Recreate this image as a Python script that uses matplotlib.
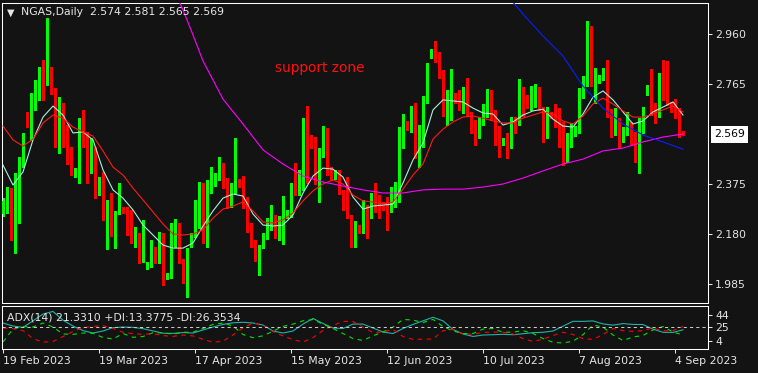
import numpy as np
import matplotlib
matplotlib.use("Agg")
import matplotlib.pyplot as plt
import matplotlib.transforms as mtransforms

# NGAS daily candles (one bar per trading day, Sunday sessions included)
opens = [
    2.258, 2.297, 2.313, 2.172, 2.278, 2.457, 2.644, 2.613, 2.695, 2.742,
    2.785, 2.761, 2.824, 2.734, 2.593, 2.644, 2.590, 2.465, 2.406, 2.414,
    2.625, 2.562, 2.488, 2.508, 2.340, 2.356, 2.239, 2.313, 2.172, 2.262,
    2.274, 2.266, 2.235, 2.153, 2.172, 2.098, 2.047, 2.055, 2.106, 2.086,
    2.129, 2.008, 2.012, 2.172, 2.211, 2.079, 2.012, 2.145, 2.172, 2.207,
    2.363, 2.188, 2.367, 2.371, 2.402, 2.453, 2.379, 2.301, 2.344, 2.387,
    2.375, 2.301, 2.207, 2.145, 2.083, 2.137, 2.168, 2.215, 2.246, 2.164,
    2.168, 2.250, 2.258, 2.356, 2.336, 2.356, 2.593, 2.558, 2.523, 2.379,
    2.492, 2.578, 2.437, 2.398, 2.426, 2.340, 2.293, 2.250, 2.149, 2.207,
    2.196, 2.266, 2.258, 2.320, 2.305, 2.293, 2.285, 2.274, 2.305, 2.313,
    2.539, 2.617, 2.590, 2.632, 2.480, 2.527, 2.695, 2.870, 2.898, 2.870,
    2.800, 2.652, 2.668, 2.726, 2.718, 2.679, 2.742, 2.648, 2.621, 2.558,
    2.617, 2.648, 2.710, 2.632, 2.547, 2.535, 2.543, 2.519, 2.621, 2.613,
    2.718, 2.703, 2.675, 2.703, 2.722, 2.671, 2.590, 2.652, 2.648, 2.640,
    2.562, 2.465, 2.551, 2.566, 2.586, 2.730, 2.781, 2.956, 2.773, 2.773,
    2.785, 2.812, 2.652, 2.586, 2.613, 2.543, 2.586, 2.593, 2.551, 2.461,
    2.617, 2.730, 2.749, 2.675, 2.664, 2.792, 2.749, 2.691, 2.671, 2.644,
    2.574]
highs = [
    2.320, 2.363, 2.359, 2.418, 2.480, 2.574, 2.656, 2.730, 2.781, 2.831,
    2.859, 3.022, 2.832, 2.749, 2.714, 2.691, 2.605, 2.519, 2.437, 2.632,
    2.664, 2.578, 2.554, 2.519, 2.402, 2.422, 2.313, 2.340, 2.270, 2.379,
    2.285, 2.285, 2.274, 2.207, 2.184, 2.235, 2.071, 2.157, 2.129, 2.188,
    2.184, 2.028, 2.223, 2.239, 2.223, 2.083, 2.125, 2.184, 2.313, 2.383,
    2.379, 2.391, 2.441, 2.418, 2.480, 2.457, 2.398, 2.379, 2.554, 2.395,
    2.406, 2.324, 2.223, 2.157, 2.137, 2.184, 2.242, 2.293, 2.254, 2.250,
    2.328, 2.274, 2.379, 2.457, 2.430, 2.632, 2.679, 2.566, 2.558, 2.515,
    2.601, 2.593, 2.441, 2.430, 2.430, 2.352, 2.402, 2.254, 2.231, 2.215,
    2.313, 2.293, 2.340, 2.379, 2.332, 2.305, 2.324, 2.363, 2.383, 2.597,
    2.648, 2.621, 2.679, 2.691, 2.605, 2.718, 2.847, 2.902, 2.933, 2.890,
    2.820, 2.742, 2.824, 2.730, 2.742, 2.753, 2.788, 2.656, 2.625, 2.636,
    2.687, 2.746, 2.742, 2.664, 2.601, 2.554, 2.574, 2.636, 2.636, 2.785,
    2.753, 2.722, 2.757, 2.765, 2.753, 2.675, 2.675, 2.656, 2.687, 2.671,
    2.617, 2.574, 2.613, 2.601, 2.749, 2.796, 3.011, 2.991, 2.827, 2.800,
    2.827, 2.859, 2.668, 2.671, 2.632, 2.597, 2.656, 2.617, 2.578, 2.632,
    2.675, 2.761, 2.824, 2.691, 2.808, 2.859, 2.855, 2.695, 2.707, 2.671,
    2.581]
lows = [
    2.250, 2.262, 2.157, 2.106, 2.223, 2.441, 2.597, 2.547, 2.664, 2.703,
    2.703, 2.761, 2.726, 2.519, 2.496, 2.519, 2.453, 2.410, 2.402, 2.379,
    2.519, 2.379, 2.418, 2.320, 2.332, 2.235, 2.122, 2.172, 2.125, 2.258,
    2.262, 2.176, 2.145, 2.129, 2.067, 2.071, 2.045, 2.051, 2.067, 2.067,
    1.981, 2.006, 2.010, 2.129, 2.067, 1.989, 1.934, 2.129, 2.168, 2.203,
    2.145, 2.129, 2.340, 2.369, 2.391, 2.359, 2.281, 2.285, 2.340, 2.363,
    2.281, 2.188, 2.129, 2.075, 2.020, 2.125, 2.161, 2.196, 2.164, 2.157,
    2.141, 2.242, 2.246, 2.332, 2.332, 2.352, 2.379, 2.515, 2.375, 2.305,
    2.480, 2.410, 2.391, 2.395, 2.336, 2.274, 2.242, 2.129, 2.129, 2.184,
    2.184, 2.164, 2.242, 2.266, 2.242, 2.274, 2.196, 2.266, 2.285, 2.305,
    2.515, 2.586, 2.578, 2.476, 2.441, 2.519, 2.691, 2.866, 2.851, 2.788,
    2.640, 2.605, 2.625, 2.691, 2.664, 2.652, 2.644, 2.574, 2.527, 2.555,
    2.605, 2.636, 2.625, 2.527, 2.480, 2.527, 2.476, 2.515, 2.574, 2.605,
    2.640, 2.671, 2.664, 2.675, 2.664, 2.539, 2.554, 2.632, 2.597, 2.519,
    2.449, 2.461, 2.519, 2.562, 2.574, 2.710, 2.757, 2.757, 2.691, 2.769,
    2.781, 2.636, 2.558, 2.566, 2.515, 2.539, 2.566, 2.527, 2.461, 2.418,
    2.574, 2.722, 2.644, 2.613, 2.636, 2.703, 2.683, 2.656, 2.632, 2.558,
    2.565]
closes = [
    2.309, 2.317, 2.172, 2.242, 2.457, 2.570, 2.613, 2.703, 2.742, 2.785,
    2.769, 2.987, 2.730, 2.593, 2.644, 2.582, 2.457, 2.422, 2.422, 2.625,
    2.558, 2.492, 2.515, 2.340, 2.359, 2.239, 2.305, 2.176, 2.266, 2.313,
    2.266, 2.227, 2.161, 2.172, 2.098, 2.188, 2.055, 2.106, 2.086, 2.133,
    2.024, 2.020, 2.172, 2.211, 2.075, 2.012, 2.114, 2.176, 2.281, 2.379,
    2.203, 2.379, 2.387, 2.410, 2.449, 2.379, 2.301, 2.348, 2.395, 2.367,
    2.301, 2.207, 2.145, 2.083, 2.102, 2.176, 2.227, 2.250, 2.168, 2.176,
    2.258, 2.258, 2.352, 2.336, 2.356, 2.593, 2.590, 2.519, 2.379, 2.496,
    2.578, 2.418, 2.402, 2.426, 2.340, 2.289, 2.246, 2.153, 2.168, 2.196,
    2.266, 2.254, 2.324, 2.301, 2.254, 2.278, 2.274, 2.317, 2.324, 2.547,
    2.605, 2.590, 2.636, 2.480, 2.586, 2.699, 2.820, 2.898, 2.870, 2.800,
    2.652, 2.668, 2.773, 2.695, 2.679, 2.742, 2.648, 2.617, 2.558, 2.617,
    2.648, 2.707, 2.632, 2.539, 2.535, 2.543, 2.523, 2.601, 2.609, 2.718,
    2.699, 2.679, 2.703, 2.718, 2.671, 2.590, 2.632, 2.636, 2.636, 2.554,
    2.472, 2.554, 2.574, 2.593, 2.734, 2.785, 2.956, 2.769, 2.781, 2.785,
    2.816, 2.640, 2.586, 2.613, 2.562, 2.586, 2.597, 2.543, 2.465, 2.621,
    2.668, 2.749, 2.671, 2.664, 2.792, 2.745, 2.742, 2.660, 2.640, 2.570,
    2.569]

# moving averages, read every 2.5 bars
fast_ma = [2.449, 2.371, 2.422, 2.547, 2.636, 2.679, 2.644, 2.574, 2.578, 2.547,
           2.430, 2.352, 2.320, 2.274, 2.215, 2.176, 2.137, 2.125, 2.125, 2.145,
           2.211, 2.270, 2.320, 2.336, 2.328, 2.258, 2.215, 2.211, 2.215, 2.254,
           2.340, 2.406, 2.437, 2.433, 2.402, 2.324, 2.277, 2.289, 2.293, 2.297,
           2.379, 2.469, 2.535, 2.664, 2.703, 2.699, 2.695, 2.671, 2.652, 2.648,
           2.605, 2.617, 2.644, 2.660, 2.667, 2.628, 2.601, 2.597, 2.648, 2.714,
           2.738, 2.703, 2.656, 2.609, 2.621, 2.656, 2.675, 2.695, 2.644]
slow_ma = [2.601, 2.547, 2.523, 2.550, 2.613, 2.644, 2.632, 2.597, 2.578, 2.562,
           2.504, 2.441, 2.410, 2.359, 2.313, 2.266, 2.219, 2.180, 2.176, 2.180,
           2.196, 2.242, 2.277, 2.289, 2.305, 2.270, 2.227, 2.223, 2.235, 2.262,
           2.309, 2.348, 2.375, 2.391, 2.375, 2.332, 2.309, 2.305, 2.297, 2.305,
           2.355, 2.410, 2.453, 2.550, 2.589, 2.617, 2.636, 2.640, 2.632, 2.621,
           2.613, 2.613, 2.632, 2.644, 2.656, 2.648, 2.621, 2.609, 2.640, 2.687,
           2.710, 2.687, 2.660, 2.636, 2.636, 2.648, 2.664, 2.679, 2.656]
long_bars = [43, 45, 47, 50, 55, 60, 65, 70, 75, 80, 85, 90, 95, 100,
             105, 110, 115, 120, 125, 130, 135, 140, 145, 150, 155, 160, 165, 170]
long_ma = [3.124, 3.054, 2.976, 2.855, 2.706, 2.609, 2.508, 2.453, 2.406, 2.383,
           2.367, 2.352, 2.340, 2.340, 2.352, 2.355, 2.355, 2.363, 2.375, 2.398,
           2.426, 2.453, 2.472, 2.504, 2.515, 2.539, 2.558, 2.570]
blue_bars = [126, 130, 135, 140, 143, 145, 150, 155, 160, 165, 170]
blue_ma = [3.112, 3.038, 2.952, 2.874, 2.804, 2.757, 2.671, 2.609, 2.566, 2.539, 2.511]

# ADX(14) panel, read every 2.5 bars
adx = [31.7, 27, 25, 35, 45.5, 49.5, 36, 27, 20, 16.3, 19.4, 24.5, 25.5, 25, 23,
       19.5, 16, 15.7, 17, 16.2, 21, 25.5, 29.5, 32, 32.8, 31.7, 28.6, 19.4, 16.3,
       19.4, 30, 38.6, 31, 24, 23.2, 30, 30, 24, 17.8, 15.5, 23.2, 29.5, 35, 40.5,
       35, 21.7, 14.8, 11, 13.2, 13.7, 14.3, 13.7, 15.2, 16.8, 17.4, 19.4, 26.8,
       34.3, 34.2, 34.9, 30.3, 28.4, 30.8, 29.5, 29.4, 22.2, 17.4, 17.2, 21.3]
plus_di = [2.5, 22.5, 26.3, 25.5, 31.7, 25.5, 14.8, 14.2, 16.3, 15.8, 9.4, 7.1, 15.5,
           9.7, 10.9, 16.8, 16.5, 14.6, 17.4, 17.7, 23.2, 29.5, 31.7, 27, 14, 9.1, 12,
           19.1, 26.5, 30, 35.1, 37, 29.8, 23.2, 15.5, 7.8, 4.8, 12, 17.7, 25.5, 37.2,
           36.2, 32.3, 37.2, 26.3, 19.4, 15.4, 15.5, 22.3, 23.2, 17.4, 17.7, 20, 15.5,
           7.8, 2, 0.9, 3.7, 13.8, 28.6, 25.4, 13.2, 4.8, 10.2, 12.5, 20.9, 26.3, 17.8,
           13.4]
minus_di = [24, 23.1, 20, 7.7, 2.3, 3.2, 10.9, 18.6, 24.5, 26.5, 27.7, 23.2, 17.4,
            15.4, 14.2, 15.4, 12.3, 11.1, 13.2, 11.8, 6.8, 2, 3.7, 13.4, 24.2, 31.7,
            28.5, 18.6, 11.8, 6.3, 2.3, 9.2, 20.2, 27.8, 34.2, 34, 25.4, 16.9, 18, 21.8,
            10.9, 6.5, 6.8, 7.1, 19.7, 21.7, 15.4, 14.2, 17.2, 17.8, 17.4, 14.9, 7.8,
            3.4, 6.9, 12.5, 17.4, 14, 7.7, 6.5, 14, 23.1, 20, 18.8, 20, 24.2, 19.5, 20,
            26.35]

date_ticks = [0, 24, 48, 72, 96, 120, 144, 168]
date_labels = ['19 Feb 2023', '19 Mar 2023', '17 Apr 2023', '15 May 2023',
               '12 Jun 2023', '10 Jul 2023', '7 Aug 2023', '4 Sep 2023']
price_ticks = [1.985, 2.180, 2.375, 2.765, 2.960]
last_price = 2.569

BG = '#131313'
FG = '#e6e6e6'
W, H = 758, 373

o = np.array(opens)
h = np.array(highs)
l = np.array(lows)
c = np.array(closes)
bars = np.arange(len(c))
samples = np.arange(len(fast_ma)) * 2.5

fig = plt.figure(figsize=(W / 100, H / 100), dpi=100, facecolor=BG)
ax = fig.add_axes([2 / W, 1 - 303 / H, 706 / W, 300 / H], facecolor=BG)
ax2 = fig.add_axes([2 / W, 1 - 349 / H, 706 / W, 43 / H], facecolor=BG)

# candles
cols = np.where(c >= o, '#00ff00', '#ff0000')
ax.vlines(bars, l, h, colors=cols, linewidth=0.75, antialiased=False, zorder=2)
ax.bar(bars, np.maximum(np.abs(c - o), 0.004), bottom=np.minimum(o, c), width=0.75,
       color=cols, linewidth=0, antialiased=False, zorder=3)

# moving averages
ax.plot(samples, fast_ma, color='#aaf0e0', lw=0.8, zorder=4)
ax.plot(samples, slow_ma, color='#ff1a1a', lw=0.8, zorder=4)
ax.plot(long_bars, long_ma, color='#ff00ff', lw=0.8, zorder=4)
ax.plot(blue_bars, blue_ma, color='#0a1eff', lw=0.8, zorder=4)

ax.set_xlim(-0.25, 176.25)
ax.set_ylim(1.9109, 3.0809)
ax.set_xticks([])
ax.yaxis.tick_right()
ax.set_yticks(price_ticks, labels=[f'{p:.3f}' for p in price_ticks])
ax.tick_params(axis='y', colors=FG, length=3, width=0.75, labelsize=7.8, pad=2)

trans = mtransforms.blended_transform_factory(ax.transAxes, ax.transData)
trans = mtransforms.offset_copy(trans, fig=fig, x=6, y=0, units='dots')
ax.text(1.0, last_price, f'{last_price:.3f}', transform=trans, ha='left', va='center',
        fontsize=7.8, color='black',
        bbox=dict(boxstyle='square,pad=0.3', fc='white', ec='none'))

# ADX panel
ax2.plot(samples, adx, color='#20b2aa', lw=0.8)
ax2.plot(samples, plus_di, color='#00e000', lw=0.8, ls=(0, (4, 4)))
ax2.plot(samples, minus_di, color='#ff0000', lw=0.8, ls=(0, (4, 4)))
ax2.axhline(25, color='#c8c8c8', lw=0.75, ls=(0, (3, 3)))
ax2.set_xlim(-0.25, 176.25)
ax2.set_ylim(-8.3, 57.85)
ax2.yaxis.tick_right()
ax2.set_yticks([4, 25, 44], labels=['4', '25', '44'])
ax2.set_xticks(date_ticks, labels=date_labels)
for lbl in ax2.get_xticklabels():
    lbl.set_ha('left')
ax2.tick_params(axis='both', colors=FG, length=3, width=0.75, labelsize=7.8, pad=2)

for a in (ax, ax2):
    for s in a.spines.values():
        s.set_color('white')
        s.set_linewidth(0.75)

fig.text(7 / W, 1 - 12.5 / H, '\u25bc', color=FG, fontsize=7, ha='left', va='center')
fig.text(21 / W, 1 - 12 / H, 'NGAS,Daily  2.574 2.581 2.565 2.569', color=FG,
         fontsize=7.8, ha='left', va='center')
fig.text(320 / W, 1 - 68 / H, 'support zone', color='#ff1010', fontsize=9.8,
         ha='center', va='center')
fig.text(7 / W, 1 - 317 / H, 'ADX(14) 21.3310 +DI:13.3775 -DI:26.3534', color=FG,
         fontsize=7.8, ha='left', va='center')

fig.savefig('out.png', dpi=100, facecolor=BG)
